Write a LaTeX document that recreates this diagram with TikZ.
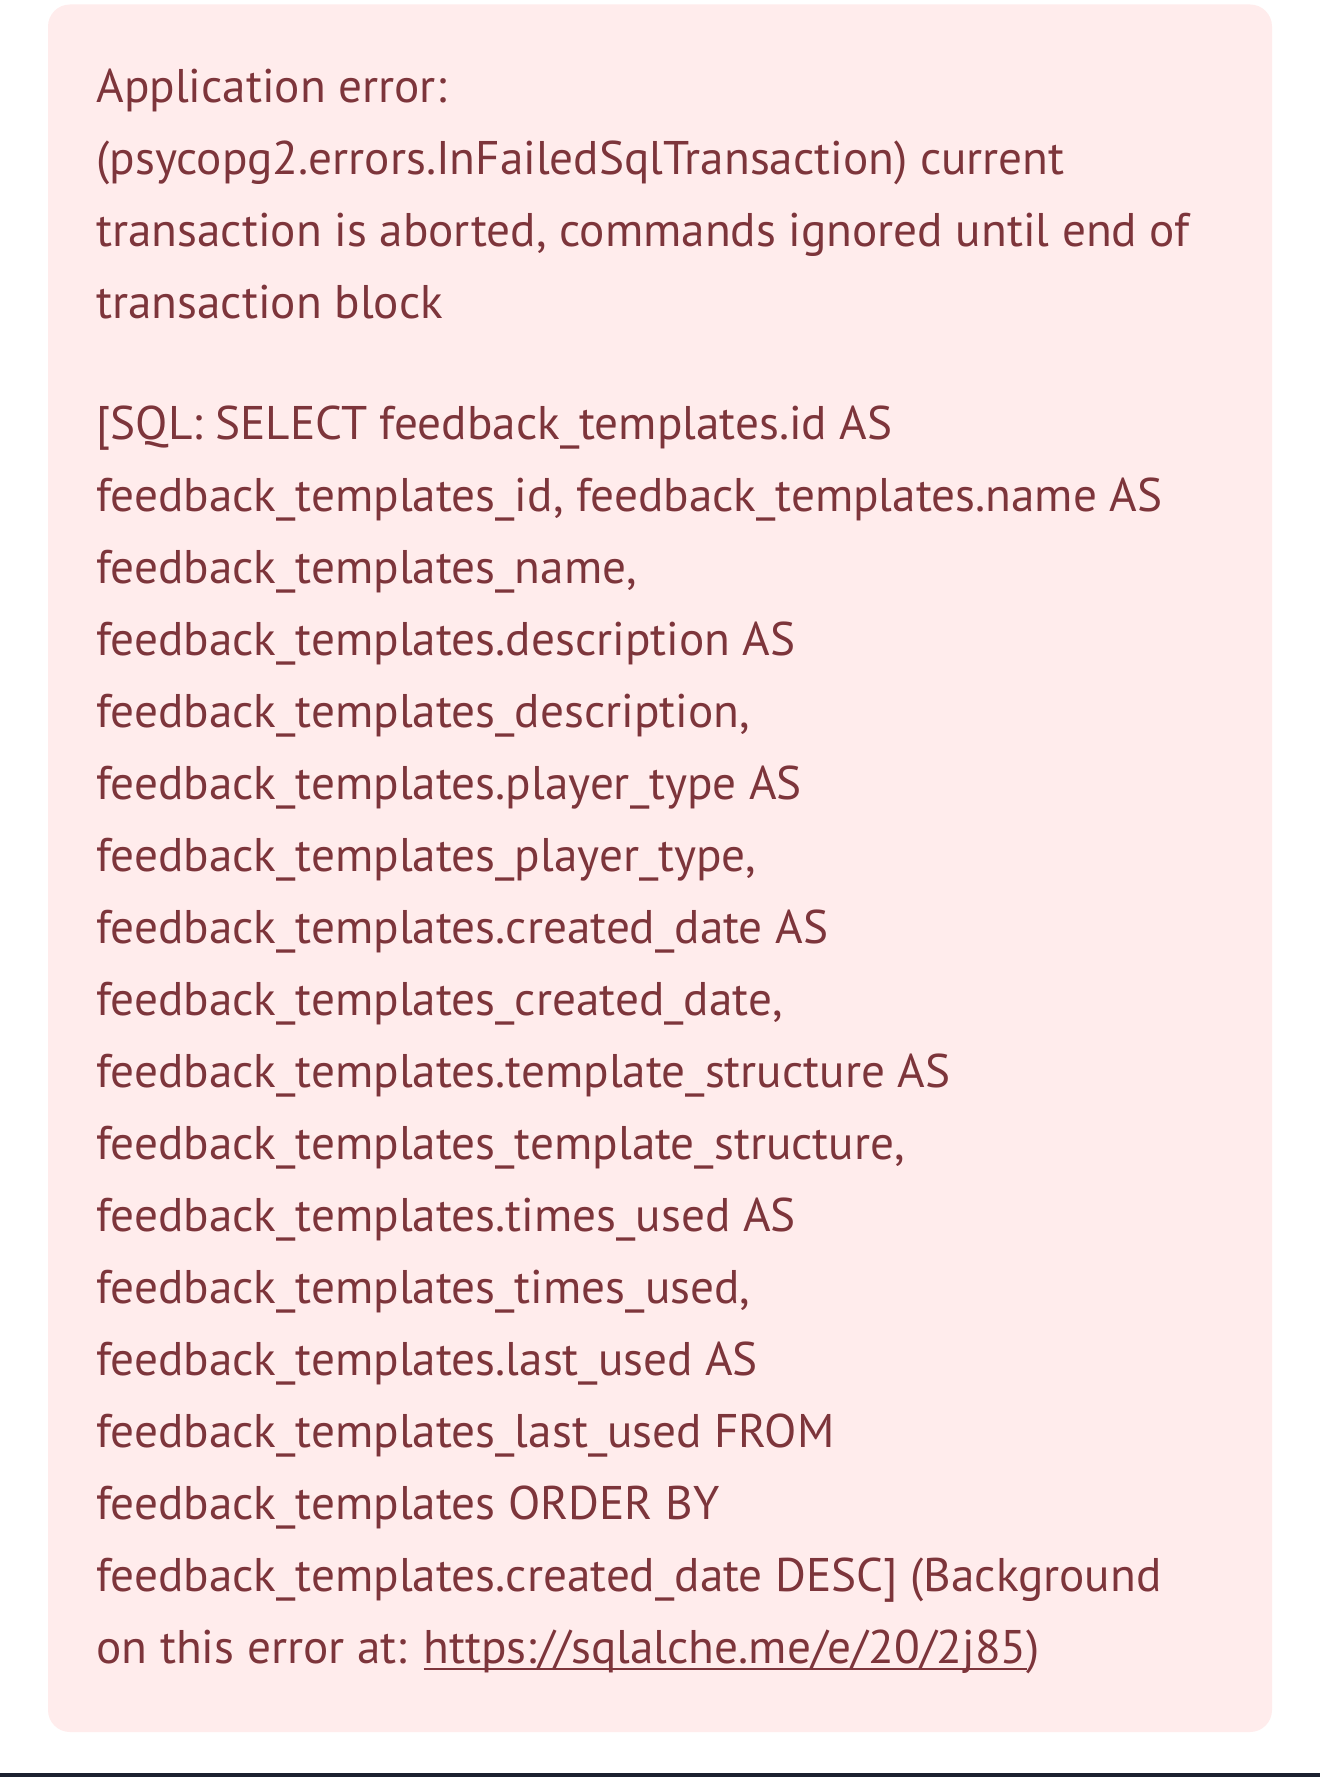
\documentclass[tikz,border=0pt]{standalone}
\usepackage{fontspec}
\setmainfont{PT Sans}
\usetikzlibrary{positioning}

\definecolor{errtext}{HTML}{7D353B}
\definecolor{errbg}{HTML}{FFECEC}
\definecolor{pagebar}{HTML}{1C2130}

% underlined link, line a little under the baseline
\newcommand{\linkline}[1]{\setbox0\hbox{#1}\rlap{\rule[-3.6pt]{\wd0}{1pt}}\box0}

\tikzset{
    msg/.style={anchor=base west, align=left, inner sep=0pt, text=errtext,
        font=\fontsize{23.6pt}{36pt}\selectfont},
    errbox/.style={fill=errbg, rounded corners=11pt}
}

\begin{document}
\begin{tikzpicture}
        \useasboundingbox (0,0) rectangle (660pt,-888.5pt);
        \fill[white] (0,0) rectangle (660pt,-888.5pt);
        \fill[pagebar] (0,-886.5pt) rectangle (660pt,-888.5pt);
        \path[errbox] (24pt,-2.25pt) rectangle (636pt,-866pt);

        % base anchor sits on the last line
        \node[msg] (head) at (48pt,-159pt) {Application error:\\
            (psycopg2.errors.InFailedSqlTransaction) current\\
            transaction is aborted, commands ignored until end of\\
            transaction block};

        \node[msg] (query) at (48pt,-831.5pt) {[SQL: SELECT feedback\_templates.id AS\\
            feedback\_templates\_id, feedback\_templates.name AS\\
            feedback\_templates\_name,\\
            feedback\_templates.description AS\\
            feedback\_templates\_description,\\
            feedback\_templates.player\_type AS\\
            feedback\_templates\_player\_type,\\
            feedback\_templates.created\_date AS\\
            feedback\_templates\_created\_date,\\
            feedback\_templates.template\_structure AS\\
            feedback\_templates\_template\_structure,\\
            feedback\_templates.times\_used AS\\
            feedback\_templates\_times\_used,\\
            feedback\_templates.last\_used AS\\
            feedback\_templates\_last\_used FROM\\
            feedback\_templates ORDER BY\\
            feedback\_templates.created\_date DESC] (Background\\
            on this error at: \linkline{https://sqlalche.me/e/20/2j85})};
    \end{tikzpicture}
\end{document}
